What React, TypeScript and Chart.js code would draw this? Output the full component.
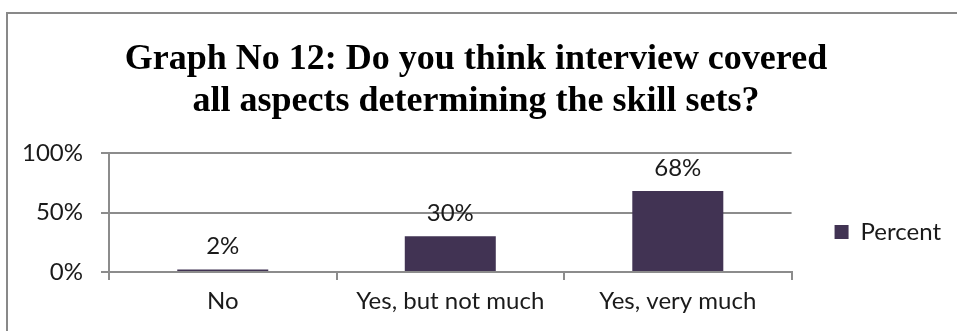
import React, { useEffect, useRef } from "react";
import { Chart, registerables } from "chart.js";

Chart.register(...registerables);

const titleLines = [
  "Graph No 12: Do you think interview covered",
  "all aspects determining the skill sets?",
];
const categories = ["No", "Yes, but not much", "Yes, very much"];
const seriesName = "Percent";
const percentValues = [2, 30, 68];
const yTicks = [0, 50, 100];

const BAR_COLOR = "#413353";
const GRID_COLOR = "#8c8c8c";
const TEXT_COLOR = "#1a1a1a";
const SANS = "Lato, 'Noto Sans', sans-serif";
const FONT_SIZE = 24;

const valueLabels = {
  id: "valueLabels",
  afterDatasetsDraw(chart: any) {
    const ctx = chart.ctx;
    chart.data.datasets.forEach((ds: any, di: number) => {
      const meta = chart.getDatasetMeta(di);
      meta.data.forEach((el: any, i: number) => {
        ctx.save();
        ctx.font = `${FONT_SIZE}px ${SANS}`;
        ctx.fillStyle = TEXT_COLOR;
        ctx.textAlign = "center";
        ctx.textBaseline = "middle";
        ctx.fillText(`${ds.data[i]}%`, el.x, el.y - 23);
        ctx.restore();
      });
    });
  },
};

export default function App() {
  const ref = useRef<HTMLCanvasElement | null>(null);

  useEffect(() => {
    if (!ref.current) return;
    const chart = new Chart(ref.current, {
      type: "bar",
      data: {
        labels: categories,
        datasets: [
          {
            label: seriesName,
            data: percentValues,
            backgroundColor: BAR_COLOR,
            borderWidth: 0,
            categoryPercentage: 1,
            barPercentage: 0.4,
          },
        ],
      },
      plugins: [valueLabels],
      options: {
        responsive: false,
        animation: false,
        devicePixelRatio: 1,
        layout: { padding: { left: 1, right: 6, top: 0, bottom: 0 } },
        plugins: {
          tooltip: { enabled: false },
          title: {
            display: true,
            text: titleLines,
            color: "#000",
            font: {
              family: "'Liberation Serif', 'Times New Roman', serif",
              size: 36,
              weight: "bold",
              lineHeight: 1.167,
            },
            padding: { top: 39, bottom: 30 },
          },
          legend: {
            display: true,
            position: "right",
            fullSize: false,
            title: { display: true, text: "", padding: { top: 24.6, bottom: 0 } },
            labels: {
              boxWidth: 14,
              boxHeight: 14,
              padding: 43,
              color: TEXT_COLOR,
              font: { family: SANS, size: FONT_SIZE },
            },
          },
        },
        scales: {
          x: {
            grid: {
              offset: true,
              drawOnChartArea: false,
              drawTicks: true,
              tickLength: 8,
              color: GRID_COLOR,
              lineWidth: 2,
            },
            border: { display: true, color: GRID_COLOR, width: 2 },
            ticks: {
              color: TEXT_COLOR,
              font: { family: SANS, size: FONT_SIZE },
              padding: 7,
              maxRotation: 0,
            },
            afterFit(scale: any) {
              scale.height = 59;
            },
          },
          y: {
            min: yTicks[0],
            max: yTicks[yTicks.length - 1],
            grid: {
              color: GRID_COLOR,
              lineWidth: 2,
              tickLength: 8,
              drawTicks: true,
            },
            border: { display: true, color: GRID_COLOR, width: 2 },
            ticks: {
              stepSize: yTicks[1] - yTicks[0],
              color: TEXT_COLOR,
              font: { family: SANS, size: FONT_SIZE },
              padding: 18,
              callback: (v: any) => `${v}%`,
            },
            afterFit(scale: any) {
              scale.width = 108;
            },
          },
        },
      },
    });
    return () => chart.destroy();
  }, []);

  return (
    <div>
      <div
        style={{
          position: "fixed",
          left: 6,
          top: 12,
          width: 1000,
          height: 400,
          border: "2px solid #898989",
          boxSizing: "border-box",
        }}
      />
      <canvas
        ref={ref}
        width={957}
        height={331}
        style={{ position: "fixed", left: 0, top: 0, width: 957, height: 331 }}
      />
    </div>
  );
}
